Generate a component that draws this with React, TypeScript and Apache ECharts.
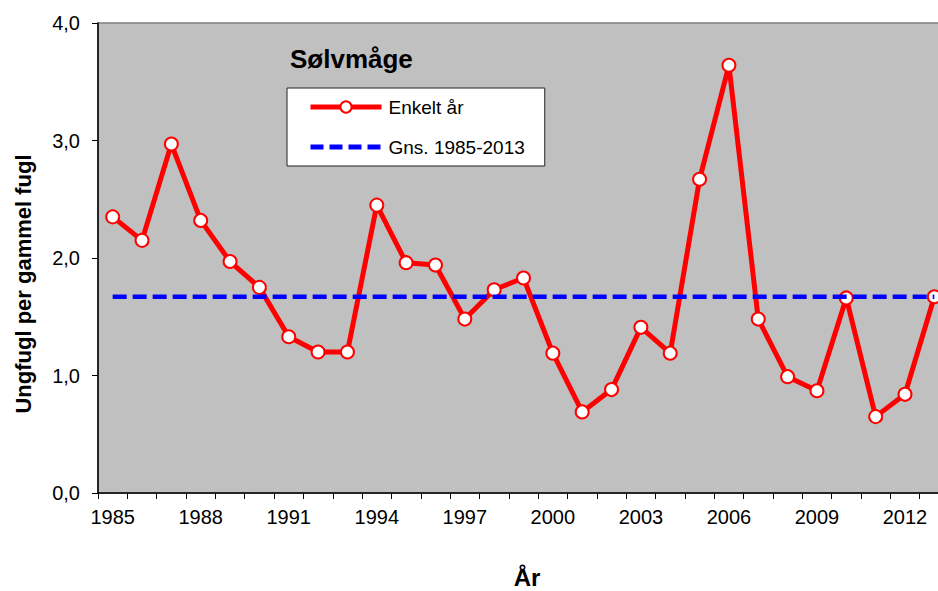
import React, { useEffect, useRef } from "react";
import * as echarts from "echarts";

const years = [
  "1985", "1986", "1987", "1988", "1989", "1990", "1991", "1992", "1993", "1994",
  "1995", "1996", "1997", "1998", "1999", "2000", "2001", "2002", "2003", "2004",
  "2005", "2006", "2007", "2008", "2009", "2010", "2011", "2012", "2013",
];

const enkeltAar = [
  2.35, 2.15, 2.97, 2.32, 1.97, 1.75, 1.33, 1.2, 1.2, 2.45,
  1.96, 1.94, 1.48, 1.73, 1.83, 1.19, 0.69, 0.88, 1.41, 1.19,
  2.67, 3.64, 1.48, 0.99, 0.87, 1.66, 0.65, 0.84, 1.67,
];

const GNS_1985_2013 = 1.67;
const gnsValues = years.map(() => GNS_1985_2013);

const seriesNames = ["Enkelt år", "Gns. 1985-2013"];
const chartTitle = "Sølvmåge";
const yAxisTitle = "Ungfugl per gammel fugl";
const xAxisTitle = "År";

const FONT = "'Liberation Sans', Arial, Helvetica, sans-serif";

export default function App() {
  const ref = useRef<HTMLDivElement>(null);

  useEffect(() => {
    if (!ref.current) return;
    const chart = echarts.init(ref.current, null, { renderer: "svg" });
    chart.setOption({
      animation: false,
      textStyle: { fontFamily: FONT },
      grid: {
        left: 98,
        top: 23,
        width: 851,
        height: 470,
        show: true,
        backgroundColor: "#C0C0C0",
        borderColor: "#808080",
        borderWidth: 1.5,
        outerBoundsMode: "none",
        containLabel: false,
      },
      legend: {
        data: [
          {
            name: seriesNames[0],
            lineStyle: { color: "#FF0000", width: 5 },
          },
          {
            name: seriesNames[1],
            itemStyle: { opacity: 0 },
            lineStyle: { color: "#0000FF", width: 5, type: [13, 6] },
          },
        ],
        orient: "vertical",
        left: 287,
        top: 88,
        itemWidth: 71,
        itemHeight: 14,
        itemGap: 20,
        padding: [9, 20, 9, 21],
        backgroundColor: "#FFFFFF",
        borderColor: "#222222",
        borderWidth: 1,
        textStyle: { fontSize: 19, color: "#000", fontFamily: FONT, lineHeight: 20, padding: [0, 0, 0, 2] },
      },
      xAxis: {
        type: "category",
        data: years,
        boundaryGap: true,
        axisLine: { lineStyle: { color: "#000", width: 1.5 } },
        axisTick: { show: true, interval: 0, length: 6, lineStyle: { color: "#000", width: 1 } },
        axisLabel: { interval: 2, fontSize: 20, color: "#000", margin: 14, fontFamily: FONT },
        splitLine: { show: false },
      },
      yAxis: {
        type: "value",
        min: 0,
        max: 4,
        interval: 1,
        axisLine: { show: true, lineStyle: { color: "#000", width: 1.5 } },
        axisTick: { show: true, length: 6, lineStyle: { color: "#000", width: 1 } },
        axisLabel: {
          fontSize: 20,
          color: "#000",
          margin: 18,
          fontFamily: FONT,
          formatter: (v: number) => v.toFixed(1).replace(".", ","),
        },
        splitLine: { show: false },
      },
      graphic: [
        {
          type: "text",
          x: 290,
          y: 59,
          style: {
            text: chartTitle,
            fontSize: 26,
            fontWeight: "bold",
            fontFamily: FONT,
            fill: "#000",
            align: "left",
            verticalAlign: "middle",
          },
          z: 10,
        },
        {
          type: "text",
          x: 23,
          y: 284,
          rotation: Math.PI / 2,
          style: {
            text: yAxisTitle,
            fontSize: 22,
            fontWeight: "bold",
            fontFamily: FONT,
            fill: "#000",
            align: "center",
            verticalAlign: "middle",
          },
        },
        {
          type: "text",
          x: 527,
          y: 577,
          style: {
            text: xAxisTitle,
            fontSize: 24,
            fontWeight: "bold",
            fontFamily: FONT,
            fill: "#000",
            align: "center",
            verticalAlign: "middle",
          },
        },
      ],
      series: [
        {
          name: seriesNames[0],
          type: "line",
          data: enkeltAar,
          symbol: "circle",
          symbolSize: 13,
          lineStyle: { color: "#FF0000", width: 5 },
          itemStyle: { color: "#FFFFFF", borderColor: "#FF0000", borderWidth: 2 },
          z: 2,
        },
        {
          name: seriesNames[1],
          type: "line",
          data: gnsValues,
          symbol: "none",
          lineStyle: { color: "#0000FF", width: 4.5, type: [14, 6] },
          itemStyle: { color: "#0000FF" },
          z: 3,
        },
      ],
    });
    return () => chart.dispose();
  }, []);

  return (
    <div
      ref={ref}
      style={{ position: "absolute", left: 0, top: 0, width: 938, height: 591 }}
    />
  );
}
